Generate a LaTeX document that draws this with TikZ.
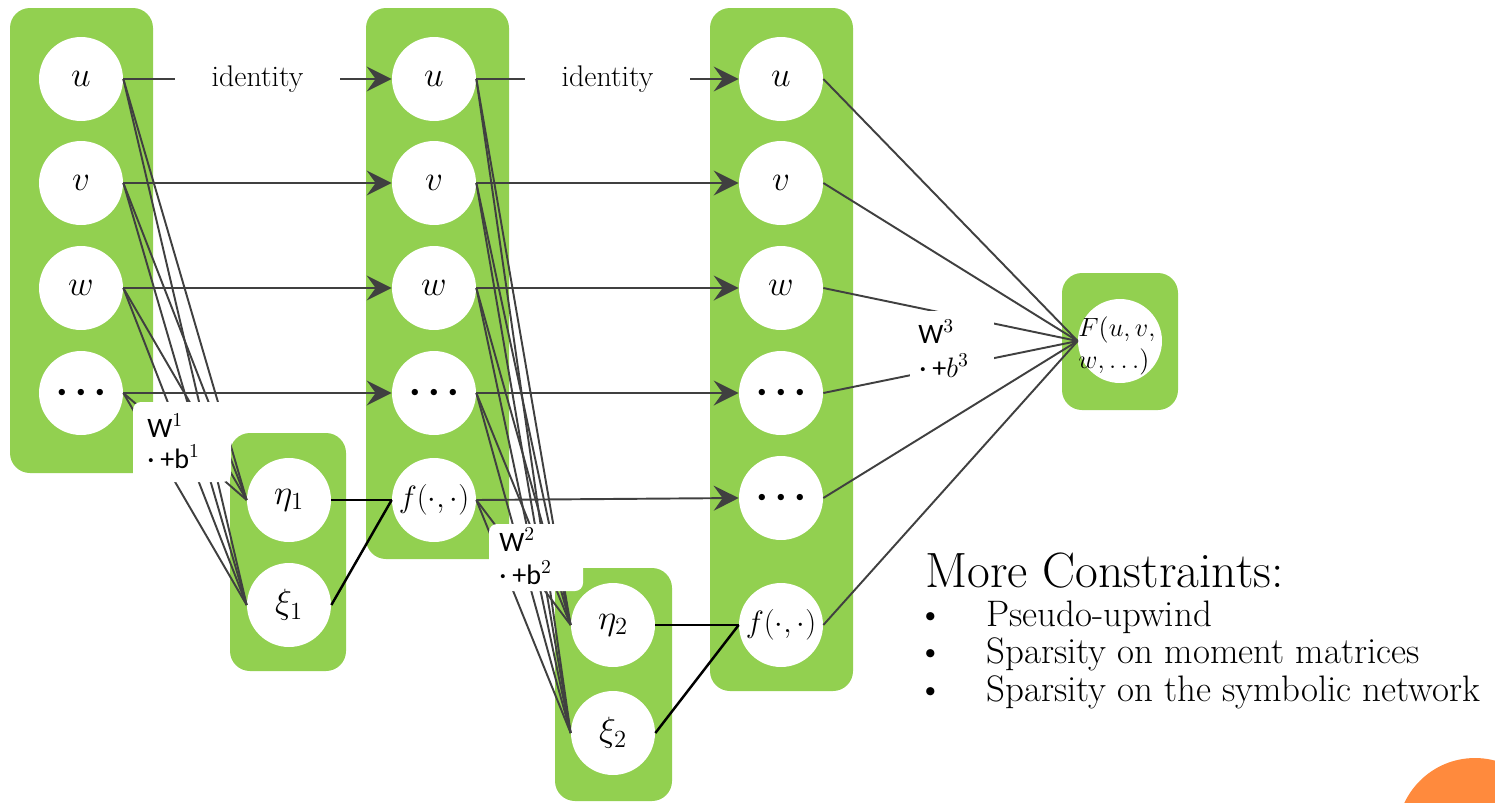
\RequirePackage{fix-cm}
\documentclass[tikz,border=0pt]{standalone}
\usepackage{fontspec}
\newfontfamily\carl{Carlito}
\usetikzlibrary{arrows.meta}
\definecolor{boxgreen}{HTML}{92D050}
\definecolor{linegray}{HTML}{404040}
\definecolor{dotorange}{HTML}{FF8A3D}
\newcommand\tridots{\raisebox{-0.1cm}{\fontsize{9}{9}\selectfont$\bullet\mkern8mu\bullet\mkern8mu\bullet$}}
\begin{document}
\begin{tikzpicture}[x=0.02cm,y=-0.02cm,
  greenbox/.style={fill=boxgreen, rounded corners=0.4cm},
  unit/.style={circle, fill=white, minimum size=1.68cm, inner sep=0pt, font=\fontsize{20}{22}\selectfont},
  funit/.style={unit, font=\fontsize{17.5}{20}\selectfont},
  conn/.style={draw=linegray, line width=1.1pt},
  arr/.style={conn, -{Stealth[length=0.5cm,width=0.5cm,inset=0.18cm]}},
  combine/.style={draw=black, line width=1.4pt},
  idlabel/.style={fill=white, inner xsep=0.74cm, inner ysep=0.2cm, font=\fontsize{17}{19}\selectfont},
  wtext/.style={inner sep=0pt, anchor=base west, font=\fontsize{16}{18}\selectfont\carl},
  txt/.style={inner sep=0pt, anchor=base west},
  itemfont/.style={font=\fontsize{21}{24}\selectfont},
]
\useasboundingbox (0,0) rectangle (1495,802);
% green panels
\fill[greenbox] (10,8) rectangle (153,473);
\fill[greenbox] (230,433) rectangle (346,671);
\fill[greenbox] (366,8) rectangle (509,559);
\fill[greenbox] (555,568) rectangle (672,801);
\fill[greenbox] (710,8) rectangle (853,691);
\fill[greenbox] (1062,273) rectangle (1178,410);
% orange decoration
\begin{scope}
\clip (0,0) rectangle (1495,802);
\fill[dotorange] (1475,836) circle[radius=1.56cm];
\end{scope}
% column 1
\node[unit] (u1) at (81,79) {$u$};
\node[unit] (v1) at (81,183) {$v$};
\node[unit] (w1) at (81,288) {$w$};
\node[unit] (d1) at (81,393) {\tridots};
\node[unit] (eta1) at (289,500) {$\eta_1$};
\node[unit] (xi1) at (289,605) {$\xi_1$};
% column 2
\node[unit] (u2) at (434,79) {$u$};
\node[unit] (v2) at (434,183) {$v$};
\node[unit] (w2) at (434,288) {$w$};
\node[unit] (d2) at (434,393) {\tridots};
\node[funit] (f2) at (434,500) {$f(\cdot,\cdot)$};
\node[unit] (eta2) at (613,625) {$\eta_2$};
\node[unit] (xi2) at (613,733) {$\xi_2$};
% column 3
\node[unit] (u3) at (781,79) {$u$};
\node[unit] (v3) at (781,183) {$v$};
\node[unit] (w3) at (781,288) {$w$};
\node[unit] (d3a) at (781,393) {\tridots};
\node[unit] (d3b) at (781,498) {\tridots};
\node[funit] (f3) at (781,625) {$f(\cdot,\cdot)$};
% output
\node[unit] (F) at (1120,341) {};
\node[inner sep=0pt, align=left, font=\fontsize{15}{18}\selectfont] (Ft) at (1117,346) {$F(u,v,$\\$w,\ldots)$};
% fan-in connectors layer 1
\foreach \s in {u1,v1,w1,d1}{
  \draw[conn] (\s.east) -- (eta1.west);
  \draw[conn] (\s.east) -- (xi1.west);
}
% fan-in connectors layer 2
\foreach \s in {u2,v2,w2,d2,f2}{
  \draw[conn] (\s.east) -- (eta2.west);
  \draw[conn] (\s.east) -- (xi2.west);
}
% connectors to output
\foreach \s in {u3,v3,w3,d3a,d3b,f3}{
  \draw[conn] (\s.east) -- (F.west);
}
% arrows
\draw[arr] (u1.east) -- node[idlabel] (id1) {identity} (u2.west);
\draw[arr] (v1.east) -- (v2.west);
\draw[arr] (w1.east) -- (w2.west);
\draw[arr] (d1.east) -- (d2.west);
\draw[arr] (u2.east) -- node[idlabel] (id2) {identity} (u3.west);
\draw[arr] (v2.east) -- (v3.west);
\draw[arr] (w2.east) -- (w3.west);
\draw[arr] (d2.east) -- (d3a.west);
\draw[arr] (f2.east) -- (d3b.west);
% combination lines
\draw[combine] (eta1.east) -- (f2.west);
\draw[combine] (xi1.east) -- (f2.west);
\draw[combine] (eta2.east) -- (f3.west);
\draw[combine] (xi2.east) -- (f3.west);
% weight labels
\fill[white, rounded corners=0.16cm] (133,402) rectangle (231,482);
\node[wtext] (w1a) at (147,437) {W$^{1}$};
\node[wtext] (w1b) at (147,468) {·\hspace{0.12cm}+b$^{1}$};
\fill[white, rounded corners=0.16cm] (489,524) rectangle (583,591);
\node[wtext] (w2a) at (499,551) {W$^{2}$};
\node[wtext] (w2b) at (499,584) {·\hspace{0.12cm}+b$^{2}$};
\fill[white] (910,311) rectangle (994,380);
\node[wtext] (w3a) at (918,343) {W$^{3}$};
\node[wtext] (w3b) at (919,377) {·\hspace{0.12cm}+$b^{3}$};
% text block
\node[txt, font=\fontsize{28.2}{32}\selectfont] (mc) at (925,587) {More Constraints:};
\node[inner sep=0pt, anchor=base, itemfont] (b1) at (931,626) {\textbullet};
\node[inner sep=0pt, anchor=base, itemfont] (b2) at (931,663) {\textbullet};
\node[inner sep=0pt, anchor=base, itemfont] (b3) at (931,701) {\textbullet};
\node[txt, itemfont] (i1) at (986,626) {Pseudo-upwind};
\node[txt, itemfont] (i2) at (986,663) {Sparsity on moment matrices};
\node[txt, itemfont] (i3) at (986,701) {Sparsity on the symbolic network};
\end{tikzpicture}
\end{document}
